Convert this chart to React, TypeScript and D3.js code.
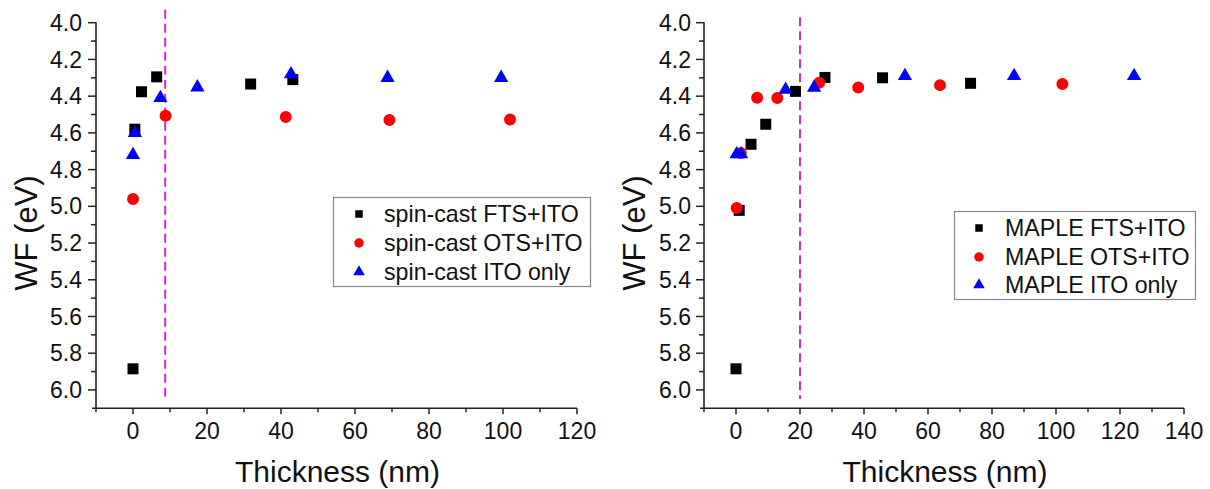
import React from "react";
import * as d3 from "d3";

// ---- Data ----
const spinFtsX = [0, 0.5, 2.3, 6.4, 31.8, 43.2];
const spinFtsY = [5.885, 4.58, 4.376, 4.295, 4.334, 4.31];
const spinOtsX = [0, 8.8, 41.3, 69.3, 101.9];
const spinOtsY = [4.96, 4.507, 4.513, 4.53, 4.527];
const spinItoX = [0, 0.5, 7.4, 17.4, 42.7, 68.8, 99.5];
const spinItoY = [4.72, 4.6, 4.41, 4.352, 4.28, 4.3, 4.3];

const mapleFtsX = [0, 1.0, 4.7, 9.3, 18.6, 27.8, 45.8, 73.3];
const mapleFtsY = [5.885, 5.022, 4.662, 4.553, 4.374, 4.298, 4.3, 4.33];
const mapleOtsX = [0.2, 1.5, 6.6, 12.9, 26.0, 38.2, 63.75, 102];
const mapleOtsY = [5.009, 4.71, 4.409, 4.41, 4.327, 4.353, 4.34, 4.334];
const mapleItoX = [0.2, 1.6, 15.5, 24.4, 52.8, 86.9, 124.4];
const mapleItoY = [4.716, 4.716, 4.365, 4.354, 4.29, 4.29, 4.29];

const spinLabels = ["spin-cast FTS+ITO", "spin-cast OTS+ITO", "spin-cast ITO only"];
const mapleLabels = ["MAPLE FTS+ITO", "MAPLE OTS+ITO", "MAPLE ITO only"];

const yTicksMajor = [4.0, 4.2, 4.4, 4.6, 4.8, 5.0, 5.2, 5.4, 5.6, 5.8, 6.0];
const yTicksMinor = [4.1, 4.3, 4.5, 4.7, 4.9, 5.1, 5.3, 5.5, 5.7, 5.9];
const leftXMajor = [0, 20, 40, 60, 80, 100, 120];
const leftXMinor = [-10, 10, 30, 50, 70, 90, 110];
const rightXMajor = [0, 20, 40, 60, 80, 100, 120, 140];
const rightXMinor = [-10, 10, 30, 50, 70, 90, 110, 130];

const spinDivider = 8.7;
const mapleDivider = 20;

const FONT = "'Liberation Sans', Arial, Helvetica, sans-serif";
const COLORS = ["#000000", "#ff0000", "#0000ff"];
const MAGENTA = "#cc2ecc";

const sqPath = d3.symbol(d3.symbolSquare, 121)()!;
const ciPath = d3.symbol(d3.symbolCircle, 113)()!;
const trPath = d3.symbol(d3.symbolTriangle, 88)()!;
const sqLeg = d3.symbol(d3.symbolSquare, 56)()!;
const ciLeg = d3.symbol(d3.symbolCircle, 71)()!;
const trLeg = d3.symbol(d3.symbolTriangle, 58)()!;
const paths = [sqPath, ciPath, trPath];
const legPaths = [sqLeg, ciLeg, trLeg];

type PanelProps = {
  xDomain: [number, number];
  xRange: [number, number];
  xMajor: number[];
  xMinor: number[];
  series: { xs: number[]; ys: number[] }[];
  divider: number;
  dividerTop: number;
  labels: string[];
  legend: { x: number; y: number; w: number; h: number; mx: number; tx: number; rows: number[] };
  yLabelX: number;
  yTitleX: number;
};

const yScale = d3.scaleLinear().domain([4.0, 6.1]).range([22.7, 408.3]);

function Panel(p: PanelProps) {
  const x = d3.scaleLinear().domain(p.xDomain).range(p.xRange);
  const y = yScale;
  const ax = p.xRange[0];
  const ay = y(6.1);
  const xCenter = (p.xRange[0] + p.xRange[1]) / 2;
  return (
    <g fontFamily={FONT} fill="#111">
      {/* axes */}
      <line x1={ax} x2={ax} y1={y(4.0) - 0.5} y2={ay} stroke="#222" strokeWidth={1.6} />
      <line x1={ax - 4} x2={p.xRange[1]} y1={ay} y2={ay} stroke="#222" strokeWidth={1.6} />
      {yTicksMajor.map((t) => (
        <g key={"ym" + t}>
          <line x1={ax - 8} x2={ax} y1={y(t)} y2={y(t)} stroke="#222" strokeWidth={1.5} />
          <text x={p.yLabelX} y={y(t) + 8.1} textAnchor="end" fontSize={23}>
            {d3.format(".1f")(t)}
          </text>
        </g>
      ))}
      {yTicksMinor.map((t) => (
        <line key={"yn" + t} x1={ax - 5} x2={ax} y1={y(t)} y2={y(t)} stroke="#222" strokeWidth={1.5} />
      ))}
      {p.xMajor.map((t) => (
        <g key={"xm" + t}>
          <line x1={x(t)} x2={x(t)} y1={ay} y2={ay + 6} stroke="#222" strokeWidth={1.5} />
          <text x={x(t)} y={438.5} textAnchor="middle" fontSize={23}>
            {t}
          </text>
        </g>
      ))}
      {p.xMinor.map((t) => (
        <line key={"xn" + t} x1={x(t)} x2={x(t)} y1={ay} y2={ay + 4} stroke="#222" strokeWidth={1.5} />
      ))}
      {/* titles */}
      <text x={xCenter + 1} y={482} textAnchor="middle" fontSize={30}>
        Thickness (nm)
      </text>
      <text
        transform={`translate(${p.yTitleX},233) rotate(-90)`}
        textAnchor="middle"
        fontSize={31}
      >
        WF (eV)
      </text>
      {/* divider */}
      <line
        x1={x(p.divider)}
        x2={x(p.divider)}
        y1={y(p.dividerTop)}
        y2={y(6.05)}
        stroke={MAGENTA}
        strokeWidth={2}
        strokeDasharray="9,5"
      />
      {/* data */}
      {p.series.map((s, si) =>
        s.xs.map((xv, i) => (
          <path
            key={si + "-" + i}
            d={paths[si]}
            transform={`translate(${x(xv)},${y(s.ys[i])})`}
            fill={COLORS[si]}
          />
        ))
      )}
      {/* legend */}
      <rect
        x={p.legend.x}
        y={p.legend.y}
        width={p.legend.w}
        height={p.legend.h}
        fill="#fff"
        stroke="#888"
        strokeWidth={1.2}
      />
      {p.labels.map((lab, i) => (
        <g key={lab}>
          <path
            d={legPaths[i]}
            transform={`translate(${p.legend.mx},${p.legend.rows[i]})`}
            fill={COLORS[i]}
          />
          <text x={p.legend.tx} y={p.legend.rows[i] + 8} fontSize={23.2}>
            {lab}
          </text>
        </g>
      ))}
    </g>
  );
}

export default function App() {
  return (
    <svg
      width={1210}
      height={489}
      style={{ position: "absolute", left: 0, top: 0, background: "#fff" }}
    >
      <rect width={1210} height={489} fill="#fff" />
      <Panel
        xDomain={[-10, 120]}
        xRange={[96, 577]}
        xMajor={leftXMajor}
        xMinor={leftXMinor}
        series={[
          { xs: spinFtsX, ys: spinFtsY },
          { xs: spinOtsX, ys: spinOtsY },
          { xs: spinItoX, ys: spinItoY },
        ]}
        divider={spinDivider}
        dividerTop={3.93}
        labels={spinLabels}
        legend={{ x: 333.5, y: 197.5, w: 257, h: 89, mx: 359, tx: 384, rows: [214, 243, 272] }}
        yLabelX={82}
        yTitleX={37}
      />
      <Panel
        xDomain={[-10, 140]}
        xRange={[704, 1184]}
        xMajor={rightXMajor}
        xMinor={rightXMinor}
        series={[
          { xs: mapleFtsX, ys: mapleFtsY },
          { xs: mapleOtsX, ys: mapleOtsY },
          { xs: mapleItoX, ys: mapleItoY },
        ]}
        divider={mapleDivider}
        dividerTop={3.97}
        labels={mapleLabels}
        legend={{ x: 954.5, y: 211.5, w: 241, h: 88, mx: 979, tx: 1005, rows: [228, 257, 285] }}
        yLabelX={691}
        yTitleX={645}
      />
    </svg>
  );
}
